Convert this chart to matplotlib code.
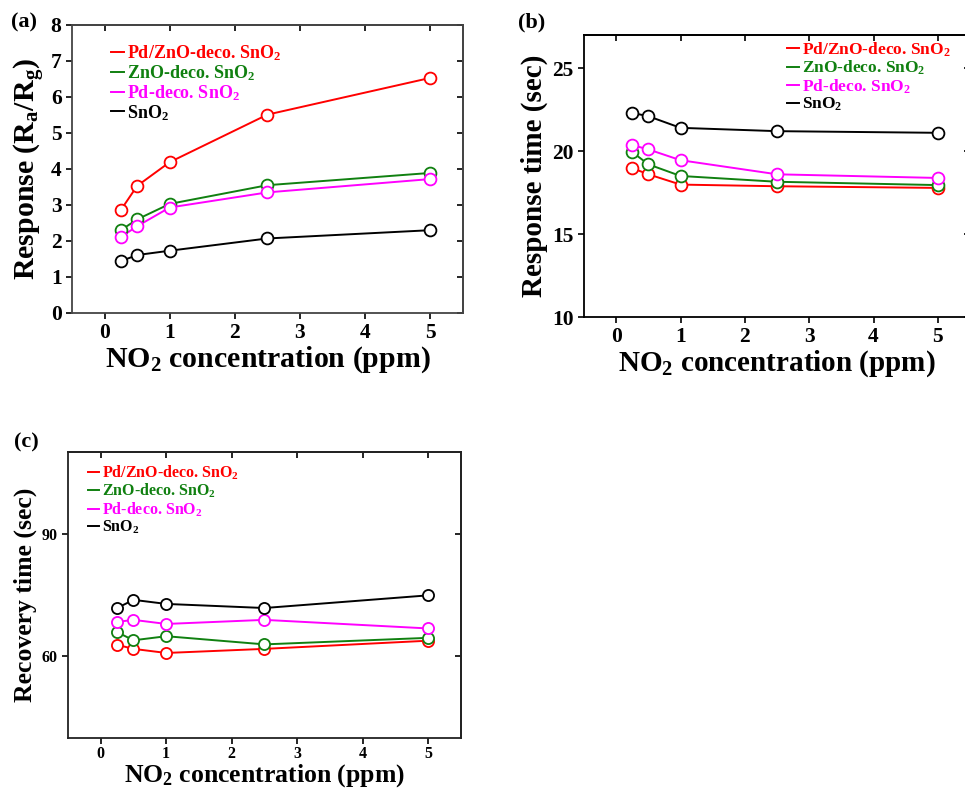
import matplotlib
matplotlib.use("Agg")
import matplotlib.pyplot as plt

plt.rcParams['font.family'] = ['Liberation Serif', 'DejaVu Serif']
plt.rcParams['font.weight'] = 'bold'
plt.rcParams['mathtext.fontset'] = 'custom'
plt.rcParams['mathtext.rm'] = 'Liberation Serif:bold'
plt.rcParams['mathtext.bf'] = 'Liberation Serif:bold'
plt.rcParams['mathtext.it'] = 'Liberation Serif:bold:italic'

# concentrations (ppm)
conc = [0.25, 0.5, 1, 2.5, 5]

labels = ["Pd/ZnO-deco. SnO$_2$", "ZnO-deco. SnO$_2$", "Pd-deco. SnO$_2$", "SnO$_2$"]
colors = ["#ff0000", "#108010", "#ff00ff", "#000000"]

# (a) response
resp_pdzno = [2.86, 3.53, 4.19, 5.51, 6.53]
resp_zno = [2.30, 2.60, 3.03, 3.55, 3.89]
resp_pd = [2.11, 2.41, 2.93, 3.35, 3.72]
resp_sno2 = [1.44, 1.61, 1.73, 2.07, 2.30]

# (b) response time (sec)
rt_pdzno = [18.97, 18.6, 17.98, 17.88, 17.78]
rt_zno = [19.94, 19.2, 18.5, 18.15, 17.95]
rt_pd = [20.36, 20.1, 19.45, 18.6, 18.38]
rt_sno2 = [22.3, 22.1, 21.4, 21.2, 21.1]

# (c) recovery time (sec)
rec_pdzno = [62.8, 61.8, 60.8, 61.8, 63.8]
rec_zno = [65.9, 63.9, 64.9, 62.9, 64.5]
rec_pd = [68.4, 68.9, 67.9, 68.9, 66.8]
rec_sno2 = [71.8, 73.8, 72.8, 71.8, 74.9]

fig = plt.figure(figsize=(9.65, 7.88), dpi=100)

def draw(ax, series, ylim, yticks, tick_fs, ms, lab_fs, leg_fs, leg_xy, xlabel, ylabel,
         spc='black', xpad=1, tpad=3):
    for vals, lab, c in zip(series, labels, colors):
        ax.plot(conc, vals, '-', color=c, lw=1.4, label=lab)
    for vals, c in zip(series, colors):
        ax.plot(conc, vals, 'o', mfc='white', mec=c, mew=1.3, ms=ms, ls='none')
    ax.set_xlim(-0.5, 5.5)
    ax.set_ylim(*ylim)
    ax.set_xticks([0, 1, 2, 3, 4, 5])
    ax.set_yticks(yticks)
    ax.tick_params(direction='out', length=4.5, width=1.2, labelsize=tick_fs, pad=3)
    ax.tick_params(axis='x', pad=tpad)
    # top / right ticks point inward
    top = ax.secondary_xaxis('top')
    top.set_xticks([0, 1, 2, 3, 4, 5])
    top.tick_params(direction='in', length=4.5, width=1.2, labeltop=False)
    right = ax.secondary_yaxis('right')
    right.set_yticks(yticks)
    right.tick_params(direction='in', length=4.5, width=1.2, labelright=False)
    for a in (ax, top, right):
        for sp in a.spines.values():
            sp.set_linewidth(1.3)
            sp.set_color(spc)
    ax.set_xlabel(xlabel, fontsize=lab_fs, fontweight='bold', labelpad=xpad)
    ax.set_ylabel(ylabel, fontsize=lab_fs, fontweight='bold', labelpad=3)
    leg = ax.legend(loc='upper left', bbox_to_anchor=leg_xy, frameon=False,
                    fontsize=leg_fs, handlelength=0.7, handletextpad=0.2,
                    labelspacing=0.0, borderpad=0, borderaxespad=0)
    for t, c in zip(leg.get_texts(), colors):
        t.set_color(c)
    return ax

xlab = "NO$_2$ concentration (ppm)"

ax_a = fig.add_axes([0.0746, 0.6028, 0.405, 0.3655])
draw(ax_a, [resp_pdzno, resp_zno, resp_pd, resp_sno2], (0, 8), range(0, 9),
     15.5, 8.5, 21.5, 13, (0.10, 0.935), xlab, "Response (R$_\\mathrm{a}$/R$_\\mathrm{g}$)",
     spc='#444444')

ax_b = fig.add_axes([0.6052, 0.5977, 0.40, 0.358])
draw(ax_b, [rt_pdzno, rt_zno, rt_pd, rt_sno2], (10, 27), [10, 15, 20, 25],
     15.5, 8.5, 21, 12.5, (0.525, 0.98), xlab, "Response time (sec)")

ax_c = fig.add_axes([0.0705, 0.0635, 0.407, 0.363])
draw(ax_c, [rec_pdzno, rec_zno, rec_pd, rec_sno2], (40, 110), [60, 90],
     11.5, 8, 18.5, 11.5, (0.05, 0.96), xlab, "Recovery time (sec)", spc='#222222',
     xpad=0, tpad=1.5)

fig.text(0.011, 0.972, "(a)", fontsize=16, fontweight='bold', va='center')
fig.text(0.537, 0.972, "(b)", fontsize=16, fontweight='bold', va='center')
fig.text(0.015, 0.438, "(c)", fontsize=16, fontweight='bold', va='center')

fig.savefig("out.png", dpi=100)
